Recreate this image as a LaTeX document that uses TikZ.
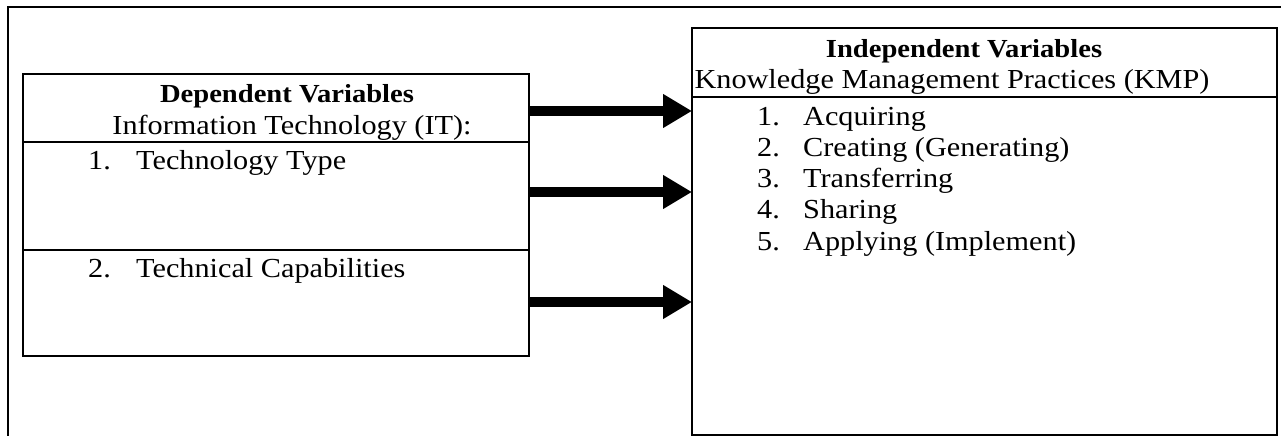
\documentclass[tikz,border=0pt]{standalone}
\usepackage{fontspec}
\setmainfont{Liberation Serif}[FakeStretch=1.1]
\usetikzlibrary{arrows.meta}
\tikzset{
  frame/.style={line width=2pt},
  varbox/.style={draw,line width=1.6pt,inner sep=0pt,outer sep=0pt,anchor=north west},
  sep/.style={line width=1.5pt},
  head/.style={anchor=base,inner sep=0pt,font=\fontsize{26}{30}\selectfont\bfseries},
  txt/.style={anchor=base,inner sep=0pt,font=\fontsize{27.5}{31}\selectfont},
  item/.style={anchor=base west,inner sep=0pt,font=\fontsize{27.5}{31}\selectfont},
  bigarrow/.style={line width=10pt,-{Triangle[length=29pt,width=32pt]}}
}
\begin{document}
\begin{tikzpicture}[x=1pt,y=1pt]
\useasboundingbox (0,0) rectangle (1281,-436);
\draw[frame] (1281,-7)--(8,-7)--(8,-436);
\node[varbox,minimum width=506pt,minimum height=282pt] (dep) at (23,-74) {};
\node[varbox,minimum width=585pt,minimum height=407pt] (indep) at (692,-28) {};
\draw[sep] (dep.west |- 0,-142)--(dep.east |- 0,-142) (dep.west |- 0,-250)--(dep.east |- 0,-250);
\draw[sep] (indep.west |- 0,-97)--(indep.east |- 0,-97);
% left box
\node[head] (dh) at (287,-102) {Dependent Variables};
\node[txt] (ds) at (292,-134) {Information Technology (IT):};
\node[item] (dn1) at (88,-169) {1.};
\node[item] (d1) at (136,-169) {Technology Type};
\node[item] (dn2) at (88,-277) {2.};
\node[item] (d2) at (136,-277) {Technical Capabilities};
% right box
\node[head] (ih) at (964,-57) {Independent Variables};
\node[txt] (is) at (952,-88) {Knowledge Management Practices (KMP)};
\foreach \t [count=\i] in {Acquiring,Creating (Generating),Transferring,Sharing,Applying (Implement)}{
  \node[item] (kn\i) at (757,{-93.75-31.25*\i}) {\i.};
  \node[item] (k\i) at (803,{-93.75-31.25*\i}) {\t};
}
\foreach \y in {111,192,302}{\draw[bigarrow] (dep.east |- 0,-\y)--(indep.west |- 0,-\y);}
\end{tikzpicture}
\end{document}
